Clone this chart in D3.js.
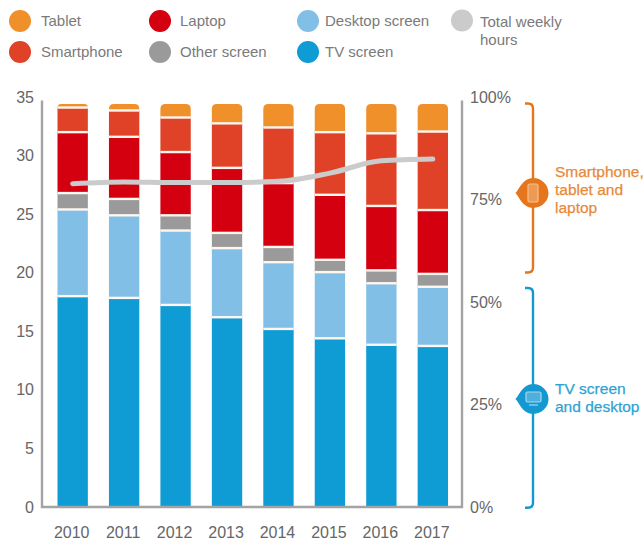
<!DOCTYPE html>
<html>
<head>
<meta charset="utf-8">
<script src="https://cdn.jsdelivr.net/npm/d3@7"></script>
<style>
  html, body { margin: 0; padding: 0; background: #fff; }
  svg { display: block; }
  text { font-family: "Liberation Sans", Arial, sans-serif; }
</style>
</head>
<body>
<svg id="chart" width="644" height="543"></svg>
<script>
// Weekly hours per screen, stacked from the bottom up
const years = ["2010", "2011", "2012", "2013", "2014", "2015", "2016", "2017"];
const tvScreen = [18.0, 17.85, 17.25, 16.2, 15.2, 14.4, 13.85, 13.75];
const desktopScreen = [7.4, 7.05, 6.35, 5.9, 5.7, 5.65, 5.25, 5.05];
const otherScreen = [1.4, 1.4, 1.3, 1.3, 1.3, 1.05, 1.1, 1.1];
const laptop = [5.2, 5.3, 5.4, 5.55, 5.45, 5.55, 5.5, 5.45];
const smartphone = [2.1, 2.25, 2.95, 3.8, 4.75, 5.35, 6.2, 6.7];
const tablet = [0.3, 0.55, 1.15, 1.65, 2.0, 2.4, 2.5, 2.35];
const totalWeeklyHours = [27.6, 27.75, 27.7, 27.7, 27.8, 28.5, 29.55, 29.7];
const hourTicks = [0, 5, 10, 15, 20, 25, 30, 35];
const shareTicks = [0, 25, 50, 75, 100];

const stackOrder = [
  { name: "TV screen", values: tvScreen, color: "#0f9bd4" },
  { name: "Desktop screen", values: desktopScreen, color: "#82bfe6" },
  { name: "Other screen", values: otherScreen, color: "#9a9a9a" },
  { name: "Laptop", values: laptop, color: "#d4000f" },
  { name: "Smartphone", values: smartphone, color: "#e04228" },
  { name: "Tablet", values: tablet, color: "#ef902b" }
];

const svg = d3.select("#chart");
const plot = { left: 57.5, right: 448, top: 97, bottom: 507 };
const axisColor = "#a3a3a3", labelColor = "#666666";

const x = d3.scaleBand().domain(years).range([plot.left, plot.right]).paddingInner(0.41).paddingOuter(0);
const y = d3.scaleLinear().domain([0, 35]).range([plot.bottom, plot.top]);
const share = d3.scaleLinear().domain([0, 100]).range([plot.bottom, plot.top]);

// Stacked columns
const rows = years.map((year, i) => {
  const row = { year };
  stackOrder.forEach(s => { row[s.name] = s.values[i]; });
  return row;
});
const layers = d3.stack().keys(stackOrder.map(s => s.name))(rows);

function segmentPath(d, rounded) {
  const x0 = x(d.data.year), x1 = x0 + x.bandwidth();
  const top = y(d[1]), bottom = y(d[0]);
  const r = rounded ? Math.min(5, bottom - top) : 0;
  return `M${x0},${bottom}V${top + r}Q${x0},${top} ${x0 + r},${top}H${x1 - r}Q${x1},${top} ${x1},${top + r}V${bottom}Z`;
}

svg.append("g").selectAll("g").data(layers).join("g")
  .attr("fill", (_, i) => stackOrder[i].color)
  .each(function (layer, i) {
    d3.select(this).selectAll("path").data(layer).join("path")
      .attr("d", d => segmentPath(d, i === stackOrder.length - 1));
  });

// Pale separators between stacked segments
svg.append("g").selectAll("g").data(layers.slice(0, -1)).join("g")
  .selectAll("line").data(d => d).join("line")
  .attr("x1", d => x(d.data.year)).attr("x2", d => x(d.data.year) + x.bandwidth())
  .attr("y1", d => y(d[1])).attr("y2", d => y(d[1]))
  .attr("stroke", "#fff6f0").attr("stroke-width", 2.4);

// Total weekly hours
const totalLine = d3.line()
  .x((_, i) => x(years[i]) + x.bandwidth() / 2)
  .y(d => y(d))
  .curve(d3.curveMonotoneX);
svg.append("path").datum(totalWeeklyHours)
  .attr("d", totalLine)
  .attr("fill", "none").attr("stroke", "#cbcbcb")
  .attr("stroke-width", 5).attr("stroke-linecap", "round");

// Axis frame: left, bottom and right rules
svg.append("path")
  .attr("d", `M42,${y(34.7)}V${plot.bottom}H462V${y(34.7)}`)
  .attr("fill", "none").attr("stroke", axisColor).attr("stroke-width", 2.4);

function styleAxis(g) {
  g.select(".domain").remove();
  g.selectAll(".tick line").remove();
  g.selectAll("text").attr("fill", labelColor).style("font-size", "16px")
    .style("font-family", '"Liberation Sans", Arial, sans-serif');
}
svg.append("g").attr("transform", "translate(34,0)")
  .call(d3.axisLeft(y).tickValues(hourTicks).tickSize(0).tickPadding(0))
  .call(styleAxis);
svg.append("g").attr("transform", "translate(470,0)")
  .call(d3.axisRight(share).tickValues(shareTicks).tickSize(0).tickPadding(0).tickFormat(d => d + "%"))
  .call(styleAxis);
svg.append("g").attr("transform", "translate(-1,527)")
  .call(d3.axisBottom(x).tickSize(0).tickPadding(0))
  .call(styleAxis)
  .selectAll("text").attr("dy", "0.71em").attr("y", 0);

// Brackets with a drop-shaped marker
function bracket(top, bottom, midY, color) {
  const g = svg.append("g");
  const bx = 533, hook = 8, r = 5;
  g.append("path")
    .attr("d", `M${bx - hook},${top}H${bx - r}Q${bx},${top} ${bx},${top + r}V${bottom - r}Q${bx},${bottom} ${bx - r},${bottom}H${bx - hook}`)
    .attr("fill", "none").attr("stroke", color).attr("stroke-width", 2.4);
  g.append("path")
    .attr("d", `M${bx - 17.5},${midY}C${bx - 13},${midY - 5} ${bx - 10},${midY - 15} ${bx},${midY - 15}` +
      `A15.5,15 0 0 1 ${bx},${midY + 15}C${bx - 10},${midY + 15} ${bx - 13},${midY + 5} ${bx - 17.5},${midY}Z`)
    .attr("fill", color);
  return g;
}
const phoneColor = "#e5761d", screenColor = "#1398d2";
const midPhone = 193, midScreen = 399;
bracket(share(98.4), share(57.2), midPhone, phoneColor)
  .append("rect").attr("x", 528).attr("y", midPhone - 9).attr("width", 10).attr("height", 18).attr("rx", 2)
  .attr("fill", "#ee9a55").attr("stroke", "#f6c08e").attr("stroke-width", 1.2);
const tvIcon = bracket(share(53.4), share(-0.2), midScreen, screenColor);
tvIcon.append("rect").attr("x", 526).attr("y", midScreen - 7).attr("width", 15).attr("height", 10).attr("rx", 1.5)
  .attr("fill", "#4eb0dd").attr("stroke", "#a5d8ef").attr("stroke-width", 1.2);
tvIcon.append("line").attr("x1", 529).attr("x2", 538).attr("y1", midScreen + 6).attr("y2", midScreen + 6)
  .attr("stroke", "#a5d8ef").attr("stroke-width", 1.2);

function multiline(lines, px, baselines, color, size, stroke) {
  const t = svg.append("text").attr("fill", color).style("font-size", size + "px");
  if (stroke) t.attr("stroke", color).attr("stroke-width", stroke);
  lines.forEach((line, i) => {
    t.append("tspan").attr("x", px).attr("y", baselines[i]).text(line);
  });
}
multiline(["Smartphone,", "tablet and", "laptop"], 555, [177, 195, 213], "#e8893a", 15.5, 0.25);
multiline(["TV screen", "and desktop"], 555, [394, 412], "#2ea3d3", 15.5, 0.25);

// Legend
const legendItems = [
  { label: ["Tablet"], color: "#ef902b", cx: 20, cy: 21, tx: 41, ty: [26] },
  { label: ["Smartphone"], color: "#e04228", cx: 20, cy: 52, tx: 41, ty: [57] },
  { label: ["Laptop"], color: "#d4000f", cx: 160, cy: 21, tx: 180, ty: [26] },
  { label: ["Other screen"], color: "#9a9a9a", cx: 160, cy: 52, tx: 180, ty: [57] },
  { label: ["Desktop screen"], color: "#82bfe6", cx: 308, cy: 21, tx: 325, ty: [26] },
  { label: ["TV screen"], color: "#0f9bd4", cx: 308, cy: 52, tx: 325, ty: [57] },
  { label: ["Total weekly", "hours"], color: "#cbcbcb", cx: 462, cy: 20.5, tx: 480, ty: [27, 45] }
];
legendItems.forEach(item => {
  svg.append("ellipse").attr("cx", item.cx).attr("cy", item.cy).attr("rx", 11).attr("ry", 11).attr("fill", item.color);
  multiline(item.label, item.tx, item.ty, "#7a7a7a", 15);
});
</script>
</body>
</html>
